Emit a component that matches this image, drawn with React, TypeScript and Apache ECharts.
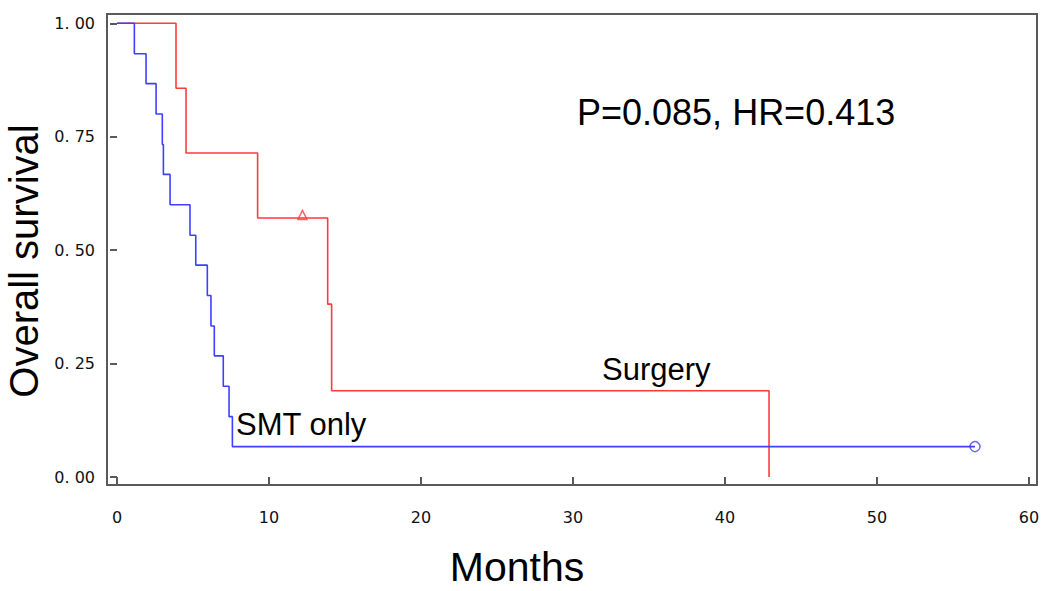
import React, { useEffect, useRef } from "react";
import * as echarts from "echarts";

// Kaplan–Meier estimates
const smtTimes = [0, 1.14, 1.91, 2.57, 2.98, 3.05, 3.49, 4.8, 5.18, 5.94, 6.18, 6.4, 6.99, 7.37, 7.59, 56.45];
const smtSurv = [1, 0.933, 0.867, 0.8, 0.733, 0.667, 0.6, 0.533, 0.467, 0.4, 0.333, 0.267, 0.2, 0.133, 0.067, 0.067];
const surgTimes = [0, 3.88, 4.54, 9.25, 13.86, 14.12, 42.9];
const surgSurv = [1, 0.857, 0.714, 0.571, 0.381, 0.19, 0];
const surgCensor = [[12.2, 0.571]];
const smtCensor = [[56.45, 0.067]];
const xTicks = [0, 10, 20, 30, 40, 50, 60];
const yTicks = [0, 0.25, 0.5, 0.75, 1];

const RED = "#ff3b3b";
const BLUE = "#3f3fff";
const FRAME = "#5a5a5a";
const FONT = "Liberation Sans, Arial, sans-serif";
const TICKFONT = "DejaVu Sans, sans-serif";

export default function App() {
  const ref = useRef<HTMLDivElement>(null);
  useEffect(() => {
    if (!ref.current) return;
    const chart = echarts.init(ref.current, undefined, { renderer: "svg" });
    const smtData = smtTimes.map((t, i) => [t, smtSurv[i]]);
    const surgData = surgTimes.map((t, i) => [t, surgSurv[i]]);
    chart.setOption({
      animation: false,
      backgroundColor: "#ffffff",
      grid: {
        left: 107,
        right: 13,
        top: 14,
        bottom: 106,
        show: true,
        borderColor: FRAME,
        borderWidth: 2,
        backgroundColor: "transparent",
      },
      xAxis: {
        type: "value",
        min: -0.66,
        max: 60.53,
        splitLine: { show: false },
        axisLine: { show: false },
        axisTick: {
          show: true,
          customValues: xTicks,
          length: 9,
          lineStyle: { color: FRAME, width: 2 },
        },
        axisLabel: {
          customValues: xTicks,
          margin: 24,
          color: "#111",
          fontSize: 16,
          fontFamily: TICKFONT,
        },
      },
      yAxis: {
        type: "value",
        min: -0.0176,
        max: 1.0205,
        splitLine: { show: false },
        axisLine: { show: false },
        axisTick: {
          show: true,
          customValues: yTicks,
          length: 7,
          lineStyle: { color: FRAME, width: 2 },
        },
        axisLabel: {
          customValues: yTicks,
          margin: 12,
          color: "#111",
          fontSize: 16,
          fontFamily: TICKFONT,
          formatter: (v: number) => v.toFixed(2).replace(".", ". "),
        },
      },
      series: [
        {
          name: "Surgery",
          type: "line",
          step: "end",
          data: surgData,
          showSymbol: false,
          lineStyle: { color: RED, width: 1.6 },
          itemStyle: { color: RED },
        },
        {
          name: "SMT only",
          type: "line",
          step: "end",
          data: smtData,
          showSymbol: false,
          lineStyle: { color: BLUE, width: 1.6 },
          itemStyle: { color: BLUE },
        },
        {
          type: "scatter",
          data: surgCensor,
          symbol: "triangle",
          symbolSize: 9,
          symbolOffset: [0, -3],
          itemStyle: { color: "#ffffff", borderColor: RED, borderWidth: 1.5 },
        },
        {
          type: "scatter",
          data: smtCensor,
          symbol: "circle",
          symbolSize: 10,
          itemStyle: { color: "#ffffff", borderColor: BLUE, borderWidth: 1.5 },
        },
      ],
      graphic: [
        {
          type: "text",
          left: 577,
          top: 94,
          style: { text: "P=0.085, HR=0.413", fontSize: 36, fontFamily: FONT, fill: "#000" },
        },
        {
          type: "text",
          left: 602,
          top: 354,
          style: { text: "Surgery", fontSize: 31, fontFamily: FONT, fill: "#000" },
        },
        {
          type: "text",
          left: 236,
          top: 409,
          style: { text: "SMT only", fontSize: 31, fontFamily: FONT, fill: "#000" },
        },
        {
          type: "text",
          x: 24,
          y: 261,
          rotation: Math.PI / 2,
          style: {
            text: "Overall survival",
            fontSize: 40,
            lineHeight: 40,
            fontFamily: FONT,
            fill: "#000",
            align: "center",
            verticalAlign: "middle",
          },
        },
        {
          type: "text",
          x: 517,
          y: 567,
          style: {
            text: "Months",
            fontSize: 41,
            fontFamily: FONT,
            fill: "#000",
            align: "center",
            verticalAlign: "middle",
          },
        },
      ],
    });
    return () => chart.dispose();
  }, []);
  return (
    <div
      ref={ref}
      style={{ position: "fixed", left: 0, top: 0, width: 1050, height: 591 }}
    />
  );
}
